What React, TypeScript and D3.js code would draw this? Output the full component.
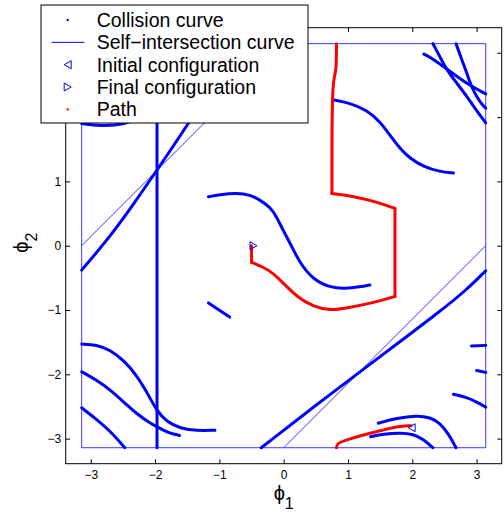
import { useEffect, useRef } from "react";
import * as d3 from "d3";

type Pt = [number, number];

const PI = Math.PI;
const xTicks = [-3, -2, -1, 0, 1, 2, 3];
const yTicks = [-3, -2, -1, 0, 1, 2, 3];
const legendLabels = [
  "Collision curve",
  "Self\u2212intersection curve",
  "Initial configuration",
  "Final configuration",
  "Path",
];

// collision curves, (phi1, phi2)
const vertical: Pt[] = [[-1.97, -PI], [-1.97, PI]];
const diagLow: Pt[] = [[-0.35, -PI], [0.72, -2.31], [1.6, -1.65], [2.46, -1.0], [2.85, -0.68], [PI, -0.39]];
const diagHigh: Pt[] = [[-PI, -0.38], [-2.7, 0.14], [-2.34, 0.64], [-1.98, 1.16], [-1.48, 1.9], [-1.1, 2.5], [-0.75, PI]];
const topLeftArc: Pt[] = [[-PI, 1.9], [-2.85, 1.86], [-2.49, 1.88], [-2.2, 2.0], [-1.95, 2.2]];
const topA1: Pt[] = [[2.18, 2.98], [2.33, 2.9], [2.56, 2.73], [2.74, 2.6], [2.92, 2.48], [PI, 2.36]];
const topL1: Pt[] = [[2.32, PI], [2.43, 2.94], [2.53, 2.74], [2.69, 2.53], [2.85, 2.32], [3.0, 2.1], [PI, 1.91]];
const topL2: Pt[] = [[2.68, PI], [2.77, 2.89], [2.85, 2.68], [2.92, 2.47], [3.0, 2.32], [3.08, 2.2], [PI, 2.14]];
const upperWave: Pt[] = [[0.76, 2.27], [1.03, 2.22], [1.29, 2.11], [1.5, 1.93], [1.65, 1.72], [1.81, 1.51], [1.96, 1.36], [2.17, 1.23], [2.43, 1.15], [2.64, 1.13]];
const midWave: Pt[] = [[-1.17, 0.76], [-0.96, 0.8], [-0.73, 0.82], [-0.52, 0.79], [-0.37, 0.71], [-0.21, 0.6], [-0.11, 0.45], [-0.01, 0.24], [0.1, 0.04], [0.25, -0.27], [0.46, -0.53], [0.72, -0.65], [0.95, -0.67], [1.19, -0.64], [1.34, -0.61]];
const shortSeg: Pt[] = [[-1.17, -0.89], [-0.84, -1.11]];
const lowB1: Pt[] = [[-PI, -1.53], [-2.91, -1.54], [-2.7, -1.62], [-2.49, -1.78], [-2.29, -2.01], [-2.13, -2.27], [-1.98, -2.56], [-1.82, -2.74], [-1.61, -2.84], [-1.35, -2.88], [-1.07, -2.87]];
const lowB2: Pt[] = [[-PI, -1.96], [-2.91, -2.09], [-2.7, -2.24], [-2.49, -2.43], [-2.29, -2.61], [-2.08, -2.76], [-1.92, -2.84], [-1.77, -2.92], [-1.62, -2.95]];
const lowB3: Pt[] = [[-PI, -2.52], [-2.91, -2.7], [-2.7, -2.88], [-2.47, -PI]];
const arcG1: Pt[] = [[1.47, -2.76], [1.76, -2.68], [2.07, -2.64], [2.28, -2.67], [2.43, -2.76], [2.56, -2.92], [2.68, -PI]];
const arcG2: Pt[] = [[1.35, -2.97], [1.55, -2.93], [1.81, -2.91], [2.02, -2.93], [2.17, -3.01], [2.32, -PI]];
const edgeG3: Pt[] = [[2.64, -2.31], [2.85, -2.36], [3.0, -2.43], [PI, -2.51]];
const edgeG4: Pt[] = [[3.0, -1.94], [PI, -1.97]];
const edgeG5: Pt[] = [[2.92, -1.56], [PI, -1.55]];

const collisionCurves = [vertical, diagLow, diagHigh, topLeftArc, topA1, topL1, topL2, upperWave, midWave, shortSeg, lowB1, lowB2, lowB3, arcG1, arcG2, edgeG3, edgeG4, edgeG5];

// self-intersection curves
const selfBox: Pt[] = [[-PI, -PI], [PI, -PI], [PI, PI], [-PI, PI], [-PI, -PI]];
const selfDiagUp: Pt[] = [[-PI, 0], [0, PI]];
const selfDiagDown: Pt[] = [[0, -PI], [PI, 0]];
const selfCurves = [selfBox, selfDiagUp, selfDiagDown];

// path legs, in order; it wraps from the bottom edge to the top edge
const legStart: Pt[] = [[1.98, -2.8], [1.76, -2.81], [1.5, -2.88], [1.24, -2.94], [0.98, -3.02], [0.83, -3.07], [0.82, -PI]];
const legTop: Pt[] = [[0.82, PI], [0.82, 2.65], [0.75, 2.63], [0.75, 0.81]];
const legArcUp: Pt[] = [[0.75, 0.81], [1.08, 0.77], [1.45, 0.68], [1.73, 0.58]];
const legDown: Pt[] = [[1.73, 0.58], [1.73, -0.79]];
const legArcLow: Pt[] = [[1.73, -0.79], [1.34, -0.9], [0.98, -0.97], [0.72, -1.01], [0.46, -0.95], [0.2, -0.79], [-0.01, -0.58], [-0.16, -0.43], [-0.32, -0.33], [-0.5, -0.26]];
const legEnd: Pt[] = [[-0.5, -0.26], [-0.5, 0.0]];
const pathLegs = [legStart, legTop, legArcUp, legDown, legArcLow, legEnd];

const initialConf: Pt = [1.99, -2.83];
const finalConf: Pt = [-0.47, 0.0];

export default function App() {
  const svgRef = useRef<SVGSVGElement>(null);

  useEffect(() => {
    const svg = d3.select(svgRef.current);
    svg.selectAll("*").remove();
    const font = "'Liberation Sans', Arial, Helvetica, sans-serif";

    const left = 65.7, right = 501.7, top = 27.7, bottom = 463.7;
    const x = d3.scaleLinear().domain([-3.39, 3.39]).range([left, right]);
    const y = d3.scaleLinear().domain([-3.39, 3.39]).range([bottom, top]);

    const line = d3.line<Pt>().x(d => x(d[0])).y(d => y(d[1]));
    const smooth = d3.line<Pt>().x(d => x(d[0])).y(d => y(d[1])).curve(d3.curveBasis);

    const plot = svg.append("g");
    plot.selectAll(".self").data(selfCurves).enter().append("path")
      .attr("d", d => line(d)).attr("fill", "none").attr("stroke", "#2020ff").attr("stroke-width", 0.9);

    plot.selectAll(".coll").data(collisionCurves).enter().append("path")
      .attr("d", d => smooth(d)).attr("fill", "none").attr("stroke", "#0000ff")
      .attr("stroke-width", 3).attr("stroke-linecap", "round").attr("stroke-linejoin", "round");

    plot.selectAll(".red").data(pathLegs).enter().append("path")
      .attr("d", d => smooth(d)).attr("fill", "none").attr("stroke", "#ff0000")
      .attr("stroke-width", 3).attr("stroke-linecap", "round").attr("stroke-linejoin", "round");

    const tri = (cx: number, cy: number, dir: number) =>
      `M${cx - 3.5 * dir},${cy} L${cx + 3.5 * dir},${cy - 4} L${cx + 3.5 * dir},${cy + 4} Z`;
    plot.append("path").attr("d", tri(x(initialConf[0]), y(initialConf[1]), 1))
      .attr("fill", "none").attr("stroke", "#0000ff").attr("stroke-width", 1);
    plot.append("path").attr("d", tri(x(finalConf[0]), y(finalConf[1]), -1))
      .attr("fill", "none").attr("stroke", "#0000ff").attr("stroke-width", 1);

    // axes
    const tick = 4.4;
    const fmt = d3.format("d");
    const styleAxis = (g: any) => {
      g.select(".domain").remove();
      g.selectAll("line").attr("stroke", "#000");
      g.selectAll("text").style("font-family", font).style("font-size", "12px").attr("fill", "#000");
    };
    svg.append("g").attr("transform", `translate(0,${bottom})`)
      .call(d3.axisBottom(x).tickValues(xTicks).tickFormat(fmt).tickSizeInner(-tick).tickSizeOuter(0).tickPadding(6.5))
      .call(styleAxis);
    svg.append("g").attr("transform", `translate(0,${top})`)
      .call(d3.axisTop(x).tickValues(xTicks).tickSizeInner(-tick).tickSizeOuter(0).tickFormat(() => ""))
      .call(styleAxis);
    svg.append("g").attr("transform", `translate(${left},0)`)
      .call(d3.axisLeft(y).tickValues(yTicks).tickFormat(fmt).tickSizeInner(-tick).tickSizeOuter(0).tickPadding(4.5))
      .call(styleAxis);
    svg.append("g").attr("transform", `translate(${right},0)`)
      .call(d3.axisRight(y).tickValues(yTicks).tickSizeInner(-tick).tickSizeOuter(0).tickFormat(() => ""))
      .call(styleAxis);
    svg.append("rect").attr("x", left).attr("y", top).attr("width", right - left).attr("height", bottom - top)
      .attr("fill", "none").attr("stroke", "#000").attr("stroke-width", 1);

    // axis labels
    const xl = svg.append("text").attr("x", (left + right) / 2).attr("y", 500).attr("text-anchor", "middle")
      .style("font-family", font).style("font-size", "20px");
    xl.append("tspan").text("\u03D5");
    xl.append("tspan").attr("dy", 9).style("font-size", "16px").text("1");
    const yl = svg.append("text").attr("transform", `translate(28,${(top + bottom) / 2 - 3}) rotate(-90)`)
      .attr("text-anchor", "middle").style("font-family", font).style("font-size", "20px");
    yl.append("tspan").text("\u03D5");
    yl.append("tspan").attr("dy", 9).style("font-size", "16px").text("2");

    // legend
    const lg = svg.append("g");
    lg.append("rect").attr("x", 41).attr("y", 5).attr("width", 267).attr("height", 118)
      .attr("fill", "#fff").attr("stroke", "#000").attr("stroke-width", 1);
    const rowY = (i: number) => 20 + i * 22.35;
    const mx = 67.7;
    lg.append("circle").attr("cx", mx).attr("cy", rowY(0)).attr("r", 1.2).attr("fill", "#0000ff");
    lg.append("line").attr("x1", 51.7).attr("x2", 84.3).attr("y1", rowY(1)).attr("y2", rowY(1))
      .attr("stroke", "#0000ff").attr("stroke-width", 1);
    lg.append("path").attr("d", tri(mx, rowY(2), 1)).attr("fill", "none").attr("stroke", "#0000ff");
    lg.append("path").attr("d", tri(mx, rowY(3), -1)).attr("fill", "none").attr("stroke", "#0000ff");
    lg.append("circle").attr("cx", mx).attr("cy", rowY(4)).attr("r", 1.2).attr("fill", "#ff0000");
    lg.selectAll(".lab").data(legendLabels).enter().append("text")
      .attr("x", 96.7).attr("y", (_d, i) => rowY(i) + 6.8)
      .style("font-family", font).style("font-size", "19.5px").attr("fill", "#000")
      .text(d => d);
  }, []);

  return (
    <svg ref={svgRef} width={504} height={513}
      style={{ position: "absolute", left: 0, top: 0, background: "#fff" }} />
  );
}
